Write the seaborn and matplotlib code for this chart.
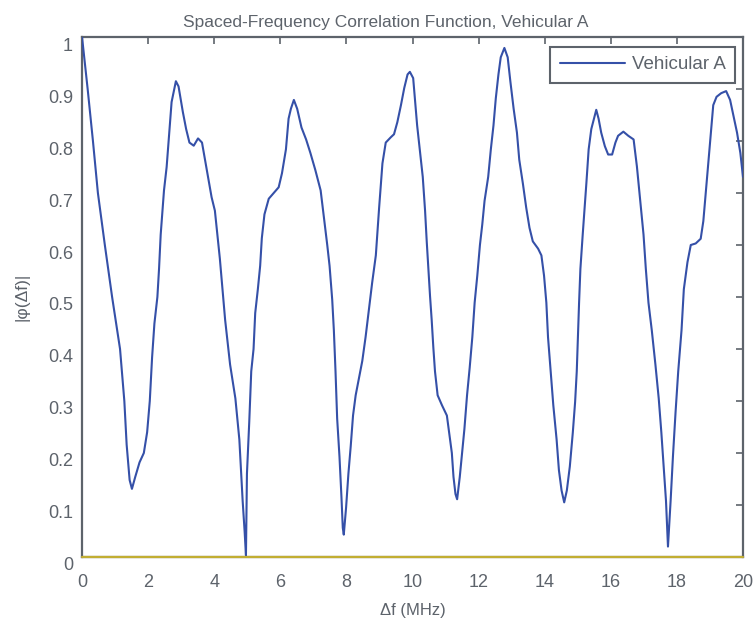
import numpy as np
import pandas as pd
import seaborn as sns
import matplotlib.pyplot as plt
from matplotlib.transforms import ScaledTranslation

# curve (MHz, |phi|)
freq_mhz = [0.00, 0.17, 0.33, 0.48, 0.69, 0.91, 1.15, 1.28, 1.35, 1.44, 1.51, 1.61, 1.74, 1.87,
            1.97, 2.05, 2.12, 2.19, 2.28, 2.33, 2.38, 2.48, 2.56, 2.64, 2.71, 2.84, 2.92, 3.05,
            3.15, 3.25, 3.38, 3.51, 3.63, 3.76, 3.92, 4.02, 4.17, 4.33, 4.48, 4.64, 4.76, 4.86,
            4.92, 4.96, 4.99, 5.06, 5.12, 5.19, 5.24, 5.32, 5.39, 5.44, 5.52, 5.65, 5.80, 5.95,
            6.05, 6.17, 6.25, 6.32, 6.41, 6.51, 6.64, 6.78, 6.91, 7.06, 7.22, 7.32, 7.42, 7.49,
            7.57, 7.62, 7.67, 7.72, 7.79, 7.85, 7.89, 7.92, 7.99, 8.06, 8.13, 8.20, 8.28, 8.38,
            8.48, 8.58, 8.68, 8.78, 8.89, 8.99, 9.09, 9.19, 9.34, 9.44, 9.54, 9.65, 9.75, 9.85,
            9.92, 10.02, 10.07, 10.14, 10.22, 10.31, 10.38, 10.43, 10.48, 10.53, 10.58, 10.63,
            10.68, 10.76, 10.89, 11.04, 11.12, 11.19, 11.24, 11.30, 11.35, 11.43, 11.50, 11.57,
            11.65, 11.73, 11.81, 11.88, 11.96, 12.04, 12.11, 12.18, 12.29, 12.37, 12.45, 12.52,
            12.60, 12.67, 12.78, 12.88, 12.96, 13.06, 13.16, 13.23, 13.34, 13.44, 13.54, 13.64,
            13.80, 13.90, 13.98, 14.05, 14.10, 14.18, 14.26, 14.36, 14.43, 14.51, 14.59, 14.67,
            14.76, 14.85, 14.92, 14.97, 15.04, 15.08, 15.15, 15.26, 15.33, 15.41, 15.49, 15.56,
            15.63, 15.71, 15.82, 15.92, 16.04, 16.14, 16.22, 16.38, 16.53, 16.69, 16.79, 16.89,
            16.99, 17.06, 17.14, 17.24, 17.35, 17.45, 17.53, 17.60, 17.67, 17.73, 17.81, 17.88,
            17.96, 18.04, 18.14, 18.21, 18.32, 18.42, 18.57, 18.72, 18.80, 18.88, 18.96, 19.03,
            19.10, 19.20, 19.34, 19.49, 19.61, 19.71, 19.82, 19.92, 20.00]
corr_mag = [1.000, 0.900, 0.800, 0.700, 0.600, 0.500, 0.400, 0.300, 0.216, 0.148, 0.131, 0.154,
            0.182, 0.200, 0.240, 0.300, 0.384, 0.449, 0.500, 0.554, 0.620, 0.705, 0.750, 0.816,
            0.875, 0.915, 0.905, 0.856, 0.823, 0.797, 0.791, 0.805, 0.797, 0.750, 0.692, 0.666,
            0.574, 0.456, 0.370, 0.305, 0.226, 0.108, 0.049, 0.003, 0.160, 0.260, 0.357, 0.400,
            0.469, 0.515, 0.560, 0.613, 0.659, 0.689, 0.700, 0.711, 0.738, 0.784, 0.843, 0.862,
            0.879, 0.862, 0.826, 0.803, 0.777, 0.744, 0.705, 0.652, 0.600, 0.560, 0.495, 0.436,
            0.357, 0.266, 0.193, 0.115, 0.056, 0.043, 0.095, 0.160, 0.213, 0.272, 0.311, 0.344,
            0.377, 0.423, 0.475, 0.528, 0.580, 0.672, 0.757, 0.797, 0.807, 0.813, 0.836, 0.869,
            0.902, 0.928, 0.933, 0.921, 0.882, 0.830, 0.784, 0.731, 0.666, 0.607, 0.554, 0.502,
            0.456, 0.403, 0.357, 0.311, 0.292, 0.272, 0.233, 0.200, 0.154, 0.121, 0.111, 0.154,
            0.200, 0.246, 0.311, 0.364, 0.423, 0.489, 0.541, 0.600, 0.639, 0.685, 0.731, 0.784,
            0.830, 0.882, 0.928, 0.961, 0.979, 0.961, 0.915, 0.862, 0.816, 0.764, 0.718, 0.672,
            0.633, 0.607, 0.593, 0.580, 0.541, 0.489, 0.423, 0.357, 0.292, 0.226, 0.167, 0.128,
            0.105, 0.128, 0.174, 0.239, 0.298, 0.357, 0.489, 0.554, 0.620, 0.718, 0.784, 0.823,
            0.843, 0.860, 0.843, 0.816, 0.790, 0.774, 0.774, 0.797, 0.810, 0.818, 0.810, 0.803,
            0.751, 0.685, 0.620, 0.554, 0.489, 0.436, 0.370, 0.305, 0.239, 0.174, 0.108, 0.020,
            0.108, 0.193, 0.279, 0.357, 0.436, 0.515, 0.567, 0.600, 0.603, 0.612, 0.646, 0.705,
            0.764, 0.816, 0.869, 0.885, 0.892, 0.896, 0.879, 0.849, 0.816, 0.777, 0.731]

# flat zero series drawn along the bottom
baseline_x = [0, 20]
baseline_y = [0, 0]

x_ticks = [0, 2, 4, 6, 8, 10, 12, 14, 16, 18, 20]
y_ticks = [0, 0.1, 0.2, 0.3, 0.4, 0.5, 0.6, 0.7, 0.8, 0.9, 1]

df = pd.DataFrame({'f': freq_mhz, 'phi': corr_mag})

sns.set_style('white')
plt.rcParams['font.family'] = ['Liberation Sans', 'DejaVu Sans']
grey = '#5d636b'

fig = plt.figure(figsize=(7.54, 6.19), dpi=100)
ax = fig.add_axes([0.1088, 0.1002, 0.8766, 0.8400])

sns.lineplot(x=baseline_x, y=baseline_y, ax=ax, color='#c2ae32', linewidth=1.6,
             zorder=4, clip_on=False)
sns.lineplot(data=df, x='f', y='phi', ax=ax, color='#3550a8', linewidth=1.5,
             label='Vehicular A', estimator=None, sort=False, zorder=3)

ax.set_xlim(0, 20)
ax.set_ylim(0, 1)
ax.set_xticks(x_ticks)
ax.set_xticklabels([str(t) for t in x_ticks])
ax.set_yticks(y_ticks)
ax.set_yticklabels(['0', '0.1', '0.2', '0.3', '0.4', '0.5', '0.6', '0.7', '0.8', '0.9', '1'])

ax.tick_params(direction='in', length=5, width=1.2, colors=grey, labelsize=13,
               top=True, right=True)
ax.tick_params(axis='x', pad=12)
ax.tick_params(axis='y', pad=6.5)
# y labels sit a little low in the original
shift = ScaledTranslation(0, -0.07, fig.dpi_scale_trans)
for lab in ax.get_yticklabels():
    lab.set_transform(lab.get_transform() + shift)

for side in ax.spines.values():
    side.set_color(grey)
    side.set_linewidth(1.6)
    side.set_visible(True)

ax.set_title('Spaced-Frequency Correlation Function, Vehicular A', color=grey, fontsize=12.5,
             pad=7, x=0.46)
ax.set_xlabel('Δf (MHz)', color=grey, fontsize=12, labelpad=9)
ax.set_ylabel('|φ(Δf)|', color=grey, fontsize=12.5, labelpad=13)

leg = ax.legend(loc='upper right', fontsize=13.5, fancybox=False, framealpha=1,
                edgecolor=grey, handlelength=3.5, handletextpad=0.35, borderpad=0.5,
                borderaxespad=0, bbox_to_anchor=(0.988, 0.981))
leg.get_frame().set_linewidth(1.5)
for txt in leg.get_texts():
    txt.set_color(grey)

fig.savefig('out.png', dpi=100)
